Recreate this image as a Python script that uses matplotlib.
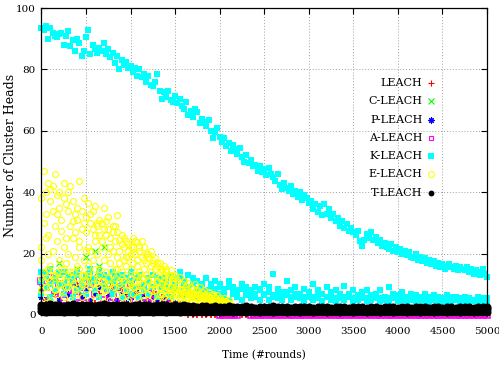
import numpy as np
import matplotlib
matplotlib.use("Agg")
import matplotlib.pyplot as plt

plt.rcParams['font.family'] = ['DejaVu Serif']

# K-LEACH upper band, one value every 25 rounds (0..5000)
k_hi = [93.5, 93.0, 94.0, 90.0, 93.5, 92.0, 91.0, 90.5, 91.5, 92.0,
        88.0, 91.0, 92.5, 87.5, 89.5, 86.0, 90.0, 88.5, 84.5, 86.0,
        90.5, 93.0, 85.0, 88.0, 86.5, 85.5, 87.0, 86.0, 88.5, 85.0,
        86.5, 84.0, 85.5, 82.0, 84.5, 80.0, 83.0, 81.5, 82.5, 80.5,
        81.0, 79.0, 80.5, 78.0, 80.0, 77.5, 78.5, 76.0, 78.0, 75.0,
        74.5, 76.0, 78.5, 73.0, 70.5, 72.5, 71.0, 73.0, 70.0, 69.5,
        71.5, 69.0, 70.5, 68.0, 67.0, 69.5, 65.0, 66.5, 64.5, 67.0,
        66.0, 62.5, 64.0, 63.0, 61.5, 63.5, 60.0, 57.5, 59.5, 61.0,
        58.0, 56.5, 57.5, 55.0, 56.0, 53.5, 55.5, 54.0, 52.5, 54.5,
        51.5, 50.0, 52.0, 49.5, 50.5, 48.5, 49.0, 47.0, 48.5, 46.5,
        47.5, 45.5, 48.0, 46.0, 45.0, 43.5, 46.0, 42.5, 41.0, 43.0,
        41.5, 40.5, 42.0, 39.5, 40.5, 38.5, 40.0, 37.5, 39.0, 38.0,
        36.5, 37.0, 34.5, 36.0, 33.5, 35.5, 32.5, 36.0, 33.0, 34.5,
        31.5, 33.0, 30.5, 31.5, 29.0, 30.5, 28.5, 29.5, 27.5, 28.5,
        27.0, 26.0, 27.5, 24.0, 22.5, 24.5, 26.5, 25.0, 27.0, 24.5,
        25.5, 23.5, 24.5, 22.5, 23.5, 22.0, 21.5, 23.0, 21.0, 22.0,
        20.5, 21.5, 20.0, 21.0, 19.5, 20.5, 19.0, 18.5, 20.0, 18.0,
        19.0, 17.5, 18.5, 17.0, 18.0, 16.5, 17.5, 16.0, 17.0, 15.5,
        16.5, 15.0, 16.0, 16.5, 15.5, 15.0, 16.0, 14.5, 15.5, 15.0,
        14.5, 15.5, 14.0, 15.0, 13.5, 14.5, 14.0, 13.0, 15.0, 13.5,
        12.5]

# lower series, one value every 50 rounds (0..5000)
k_lo_a = [14, 12, 15, 11, 13, 14, 12, 13, 14, 11,
          13, 15, 12, 14, 13, 11, 14, 12, 13, 11,
          14, 12, 13, 10, 12, 13, 11, 12, 10, 13,
          12, 14, 11, 13, 12, 11, 10, 12, 9, 11,
          10, 8.5, 11, 9, 8, 10, 9, 7.5, 9, 8,
          10, 9, 13.5, 8.5, 7.5, 11, 8, 9, 7, 8.5,
          7.5, 10, 8, 7, 9, 7.5, 8, 6.5, 9.5, 7,
          8, 6.5, 7.5, 8, 6.5, 7, 8, 6, 9, 7,
          6.5, 7.5, 6, 7, 6.5, 6, 7, 5.5, 6.5, 6,
          5.5, 6.5, 5.5, 6, 5, 6, 5.5, 5, 6, 5,
          5.5]
k_lo_b = [7, 9, 6, 8, 10, 7, 9, 6, 8, 9,
          7, 10, 8, 6, 9, 8, 7, 9, 6, 8,
          7, 9, 6, 8, 7, 9, 6, 8, 7, 6,
          8, 7, 6.5, 8, 7, 6, 7.5, 6, 7, 5.5,
          7, 6, 5, 7, 6, 5, 6.5, 5.5, 6, 5,
          6.5, 5, 6, 5.5, 5, 6.5, 5, 6, 5.5, 4.5,
          6, 5, 5.5, 4.5, 6, 5, 4.5, 5.5, 5, 6,
          4.5, 5, 5.5, 4.5, 5, 5.5, 4.5, 5, 4.5, 5.5,
          4.5, 5, 4.5, 5, 4, 5, 4.5, 4, 5, 4.5,
          4, 4.5, 4, 5, 4, 4.5, 4, 4.5, 4, 4.5,
          4.5]
k_lo_c = [11, 13, 10, 12, 14, 10, 12, 11, 13, 10,
          12, 14, 11, 13, 10, 12, 11, 13, 10, 12,
          11, 9, 12, 10, 11, 9, 12, 10, 11, 9,
          10, 12, 9, 9, 10, 8.5, 9.5, 8, 10, 8.5,
          9, 7.5, 9, 8, 7, 8.5, 7.5, 8, 7, 8.5,
          7, 7.5, 6.5, 7, 6.5, 7.5, 6, 7, 6.5, 6,
          7.5, 6, 6.5, 7, 6, 6.5, 5.5, 7, 6, 6.5,
          5.5, 6, 7, 5.5, 6, 6.5, 5.5, 6, 5.5, 6.5,
          5, 6, 5.5, 5, 6, 5.5, 5, 6, 5.5, 5,
          5.5, 5, 6, 5, 5.5, 5, 5.5, 5, 5, 5.5,
          5]

leach = [8, 5, 11, 7, 4, 9, 12, 6, 10, 5,
         8, 11, 4, 7, 9, 6, 10, 5, 8, 7,
         4, 9, 6, 8, 5, 7, 4, 6, 5, 4,
         3, 4, 3, 0, 0, 0, 0, 0, 0, 0,
         0, 0, 0, 0, 0, 0, 0, 0, 0, 0,
         0, 0, 0, 0, 0, 0, 0, 0, 0, 0,
         0, 0, 0, 0, 0, 0, 0, 0, 0, 0,
         0, 0, 0, 0, 0, 0, 0, 0, 0, 0,
         0, 0, 0, 0, 0, 0, 0, 0, 0, 0,
         0, 0, 0, 0, 0, 0, 0, 0, 0, 0,
         0]
c_leach = [9, 14, 6, 11, 17, 8, 13, 10, 15, 7,
           19, 12, 21, 16, 22, 9, 13, 8, 11, 6,
           10, 7, 9, 5, 8, 6, 7, 5, 4, 6,
           3, 4, 3, 2, 3, 2, 2, 3, 2, 2,
           2, 1.5, 2, 2, 1.5, 2, 1.5, 2, 1.5, 2,
           1.5, 2, 1.5, 1.5, 2, 1.5, 2, 1.5, 1.5, 2,
           1.5, 2, 1.5, 1.5, 2, 1.5, 1.5, 2, 1.5, 1.5,
           2, 1.5, 1.5, 2, 1.5, 1.5, 2, 1.5, 1.5, 2,
           1.5, 1.5, 2, 1.5, 1.5, 2, 1.5, 1.5, 2, 1.5,
           1.5, 2, 1.5, 1.5, 2, 1.5, 1.5, 2, 1.5, 1.5,
           2]
p_leach = [6, 9, 4, 8, 5, 10, 7, 4, 9, 6,
           8, 5, 7, 9, 4, 6, 8, 5, 7, 4,
           6, 8, 5, 7, 4, 6, 5, 4, 5, 3,
           4, 3, 3, 2, 3, 2, 2, 2.5, 2, 2,
           2, 2, 2.5, 2, 2, 2, 2.5, 2, 2, 2,
           2.5, 2, 2, 2, 2.5, 2, 2, 2, 2.5, 2,
           2, 2, 2.5, 2, 2, 2, 2.5, 2, 2, 2,
           2.5, 2, 2, 2, 2.5, 2, 2, 2, 2.5, 2,
           2, 2, 2.5, 2, 2, 2, 2.5, 2, 2, 2,
           2.5, 2, 2, 2, 2.5, 2, 2, 2, 2.5, 2,
           2]
a_leach = [11, 9, 12, 7, 10, 5, 8, 11, 6, 9,
           4, 10, 7, 12, 5, 8, 6, 9, 4, 7,
           10, 5, 8, 6, 4, 7, 5, 3, 4, 3,
           2.5, 3, 2, 2.5, 2, 2, 2, 2, 2, 2,
           0, 0, 0, 0, 0, 1.5, 1.5, 0, 0, 0,
           0, 0, 0, 0, 0, 0, 0, 0, 0, 0,
           0, 0, 0, 0, 0, 0, 0, 0, 0, 0,
           0, 0, 0, 0, 0, 0, 0, 0, 0, 0,
           0, 0, 0, 0, 0, 0, 0, 0, 0, 0,
           0, 0, 0, 0, 0, 0, 0, 0, 0, 0,
           0]

# E-LEACH, one set every 25 rounds
e_hi = [22, 47, 40, 43, 37, 42, 46, 33, 40, 27.5,
        43, 36, 40, 42, 30.5, 33, 35, 43.5, 28, 38,
        21, 36.5, 33, 28, 35.5, 30, 26, 30, 35, 30.5,
        28, 25, 27, 29, 32.5, 24.5, 26, 22, 24, 21,
        22, 25, 20, 23.8, 22, 24, 18, 20, 19, 21,
        17, 18.5, 16, 17, 14.5, 16, 15, 13, 14.5, 12,
        13, 11.5, 12.5, 10, 11, 9.5, 10.5, 9, 8.5, 10,
        8, 9, 7.5, 8, 7, 7.5, 6.5, 7, 6, 6.5,
        5.5, 5, 5.5, 4.5, 5]
e_up = [38, 30, 33, 26, 41, 34, 29, 39, 35, 31,
        38, 25, 34, 29, 37, 27, 31, 24, 34, 30,
        27, 22, 30, 34, 26, 29, 31, 24, 28, 26,
        32, 22, 29, 24, 27, 21, 23, 25, 19, 23,
        20, 22, 24, 18, 21, 19, 22, 17, 20, 16,
        18, 15, 17, 14, 15, 13, 14, 12, 13, 11,
        12]
e_mid = [18, 14, 25, 20, 16, 21, 13, 24, 18, 15,
         22, 17, 20, 14, 25, 19, 16, 22, 13, 18,
         32, 16, 21, 18, 24, 20, 15, 22, 18, 14,
         20, 17, 21, 15, 19, 17, 14, 18, 16, 19,
         15, 17, 13, 16, 14, 12, 15, 13, 11, 14,
         12, 13, 11, 12, 10, 11.5, 9.5, 11, 9, 10,
         8.5, 9.5, 8, 8.5, 7.5, 8, 7, 7.5, 6.5, 7,
         6, 6.5, 6, 5.5, 6, 5, 5.5, 5, 4.5, 5,
         4.5, 4, 4.5, 4, 4]
e_lo = [8, 11, 6, 12, 9, 5, 10, 7, 12, 8,
        6, 11, 9, 5, 10, 7, 12, 9, 6, 11,
        8, 13, 5, 10, 7, 12, 9, 6, 11, 8,
        10, 5, 9, 12, 7, 10, 6, 11, 8, 5,
        10, 7, 9, 6, 11, 8, 5, 9, 7, 10,
        6, 8, 5, 9, 7, 6, 8, 5, 7, 6,
        5, 7, 6, 5, 6.5, 5, 5.5, 6, 4.5, 5,
        5.5, 4.5, 5, 4.5, 4, 5, 4.5, 4, 4, 4.5,
        4, 3.5, 4, 3.5, 3.5]
e_lo2 = [12, 14, 9, 15, 11, 13, 8, 14, 10, 12,
         15, 9, 13, 11, 14, 8, 12, 15, 10, 13,
         11, 14, 9, 12, 15, 10, 13, 11, 8, 14,
         12, 10, 13, 9, 15, 11, 12, 8, 13, 10,
         12, 9, 11, 13, 8, 10, 12, 9, 11, 8,
         10, 9, 11, 7, 10, 8, 9, 7, 9, 8,
         7, 8.5, 7, 8, 6.5, 7.5, 6, 7, 6.5, 6,
         7, 5.5, 6, 6.5, 5, 6, 5.5, 5, 5.5, 5,
         4.5]

# T-LEACH, one set every 50 rounds (0..5000)
t_hi = [3.3, 3.1, 3.5, 3.2, 3.4, 3.0, 3.3, 3.5, 3.1, 3.3,
        3.2, 3.4, 3.0, 3.3, 3.5, 3.2, 3.1, 3.4, 3.2, 3.3,
        3.0, 3.4, 3.2, 3.1, 3.3, 3.0, 3.2, 3.4, 3.1, 2.9,
        3.2, 3.0, 3.1, 2.8, 3.0, 2.7, 2.9, 2.8, 2.6, 2.9,
        2.7, 2.5, 2.8, 2.6, 2.7, 2.5, 2.8, 2.6, 2.4, 2.7,
        2.6, 2.5, 2.8, 2.6, 2.5, 2.7, 2.4, 2.6, 2.7, 2.5,
        2.6, 2.4, 2.7, 2.5, 2.6, 2.4, 2.6, 2.7, 2.5, 2.4,
        2.6, 2.5, 2.7, 2.4, 2.6, 2.5, 2.4, 2.6, 2.5, 2.7,
        2.4, 2.5, 2.6, 2.4, 2.5, 2.7, 2.5, 2.4, 2.6, 2.5,
        2.4, 2.6, 2.5, 2.4, 2.6, 2.5, 2.7, 2.4, 2.5, 2.6,
        2.5]
t_mid = [2.3, 2.1, 2.4, 2.2, 2.3, 2.1, 2.4, 2.2, 2.1, 2.3,
         2.2, 2.4, 2.1, 2.3, 2.2, 2.1, 2.4, 2.2, 2.3, 2.1,
         2.2, 2.3, 2.1, 2.4, 2.2, 2.1, 2.3, 2.2, 2.1, 2.3,
         2.2, 2.1, 2.0, 2.1, 2.0, 1.9, 2.0, 1.9, 1.8, 2.0,
         1.9, 1.8, 2.0, 1.9, 1.8, 1.9, 2.0, 1.8, 1.9, 1.8,
         2.0, 1.9, 1.8, 1.9, 2.0, 1.8, 1.9, 1.8, 2.0, 1.9,
         1.8, 1.9, 2.0, 1.8, 1.9, 1.8, 2.0, 1.9, 1.8, 1.9,
         2.0, 1.8, 1.9, 1.8, 2.0, 1.9, 1.8, 1.9, 2.0, 1.8,
         1.9, 1.8, 2.0, 1.9, 1.8, 1.9, 2.0, 1.8, 1.9, 1.8,
         2.0, 1.9, 1.8, 1.9, 2.0, 1.8, 1.9, 1.8, 2.0, 1.9,
         1.8]
t_lo = [1.3, 1.1, 1.4, 1.2, 1.3, 1.1, 1.4, 1.2, 1.1, 1.3,
        1.2, 1.4, 1.1, 1.3, 1.2, 1.1, 1.4, 1.2, 1.3, 1.1,
        1.2, 1.3, 1.1, 1.4, 1.2, 1.1, 1.3, 1.2, 1.1, 1.3,
        1.2, 1.1, 1.3, 1.2, 1.1, 1.3, 1.2, 1.1, 1.3, 1.2,
        1.1, 1.3, 1.2, 1.1, 1.3, 1.2, 1.1, 1.3, 1.2, 1.1,
        1.3, 1.2, 1.1, 1.3, 1.2, 1.1, 1.3, 1.2, 1.1, 1.3,
        1.2, 1.1, 1.3, 1.2, 1.1, 1.3, 1.2, 1.1, 1.3, 1.2,
        1.1, 1.3, 1.2, 1.1, 1.3, 1.2, 1.1, 1.3, 1.2, 1.1,
        1.3, 1.2, 1.1, 1.3, 1.2, 1.1, 1.3, 1.2, 1.1, 1.3,
        1.2, 1.1, 1.3, 1.2, 1.1, 1.3, 1.2, 1.1, 1.3, 1.2,
        1.1]

names = ["LEACH", "C-LEACH", "P-LEACH", "A-LEACH", "K-LEACH", "E-LEACH", "T-LEACH"]
colors = ["#ff0000", "#00ff00", "#0000ff", "#ff00ff", "#00ffff", "#ffff00", "#000000"]

x25 = 25 * np.arange(len(k_hi))
x50 = 50 * np.arange(len(leach))

fig = plt.figure(figsize=(4.99, 3.65), dpi=100)
ax = fig.add_axes([0.083, 0.137, 0.893, 0.841])

mk = [dict(marker="+", color=colors[0], ms=4.5, mew=0.8),
      dict(marker="x", color=colors[1], ms=4, mew=0.8),
      dict(marker=(8, 2, 0), color=colors[2], ms=4.5, mew=0.8),
      dict(marker="s", mfc="none", mec=colors[3], ms=3.5, mew=0.8),
      dict(marker="s", color=colors[4], ms=4.3, mew=0),
      dict(marker="o", mfc="none", mec=colors[5], ms=4.3, mew=0.8),
      dict(marker="o", color=colors[6], ms=4.2, mew=0)]
kw = dict(linestyle="none", clip_on=False)

ax.plot(x50, leach, marker="+", color=colors[0], ms=4.5, mew=1.2, **kw)
ax.plot(x50, c_leach, **mk[1], **kw)
ax.plot(x50, p_leach, **mk[2], **kw)
ax.plot(x50, a_leach, marker="s", mfc="none", mec=colors[3], ms=3.8, mew=1.2, **kw)
ax.plot(x25, k_hi, **mk[4], **kw)
for kv in (k_lo_a, k_lo_b, k_lo_c):
    ax.plot(x50, kv, **mk[4], **kw)
for ev in (e_hi, e_up, e_mid, e_lo, e_lo2):
    ax.plot(25 * np.arange(len(ev)), ev, **mk[5], **kw)
for tv in (t_hi, t_mid, t_lo):
    ax.plot(x50, tv, marker="o", color=colors[6], ms=5.8, mew=0, **kw)

ax.set_xlim(0, 5000)
ax.set_ylim(0, 100)
ax.set_xticks(np.arange(0, 5001, 500))
ax.set_yticks(np.arange(0, 101, 20))
ax.grid(True, color="#a0a0a0", linestyle=(0, (1, 2)), linewidth=0.7)
ax.set_axisbelow(True)
ax.tick_params(direction="in", top=True, right=True, length=4, width=0.8, labelsize=7.5)
ax.tick_params(axis="x", pad=9)
ax.tick_params(axis="y", pad=4)
for s in ax.spines.values():
    s.set_linewidth(0.9)

ax.set_xlabel("Time (#rounds)", fontsize=7.6)
ax.set_ylabel("Number of Cluster Heads", fontsize=9)
ax.xaxis.set_label_coords(0.5, -0.115)
ax.yaxis.set_label_coords(-0.055, 0.52)

# key, gnuplot style: label right-aligned, sample to its right
for i, name in enumerate(names):
    yy = 0.756 - i * 0.0596
    ax.text(0.855, yy, name, transform=ax.transAxes, ha="right", va="center", fontsize=8)
    ax.plot([0.874], [yy], transform=ax.transAxes, linestyle="none", clip_on=False, **mk[i])

fig.savefig("out.png", dpi=100)
